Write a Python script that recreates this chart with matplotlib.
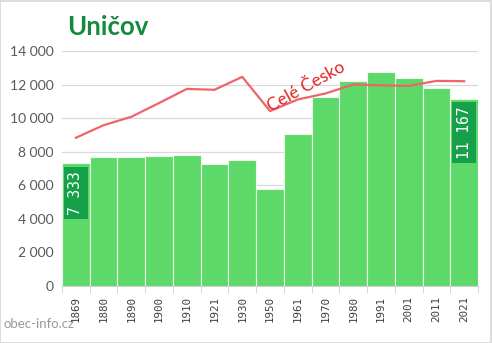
import matplotlib
matplotlib.use("Agg")
import matplotlib.pyplot as plt
from matplotlib.patches import Rectangle

years = ["1869", "1880", "1890", "1900", "1910", "1921", "1930", "1950",
         "1961", "1970", "1980", "1991", "2001", "2011", "2021"]
population = [7333, 7690, 7690, 7760, 7820, 7260, 7500, 5770,
              9030, 11280, 12240, 12760, 12420, 11810, 11167]
# whole-country trend, rescaled to the town's axis
czechia = [8830, 9580, 10080, 10900, 11740, 11690, 12460, 10420,
           11110, 11470, 12000, 11960, 11920, 12220, 12200]
labelled = [0, 14]

bar_green = "#5dd96a"
box_green = "#15a049"
title_green = "#138a3e"
grey = "#595959"

fig = plt.figure(figsize=(4.92, 3.43), dpi=100)
ax = fig.add_axes([0.126, 0.1662, 0.8455, 0.6851])

x = list(range(len(years)))
ax.bar(x, population, width=1.0, color=bar_green, edgecolor="#eafbe9",
       linewidth=0.8, zorder=2)
ax.plot(x, czechia, color="#ee6468", linewidth=1.6, zorder=3)

for i in labelled:
    ax.text(i, population[i] - 480, f"{population[i]:,}".replace(",", " "),
            rotation=90, ha="center", va="top", color="white",
            fontsize=10.5, family="DejaVu Sans Mono", zorder=4,
            bbox=dict(boxstyle="square,pad=0.3", fc=box_green, ec="none"))

ax.text(8.3, 11850, "Celé Česko", rotation=29, color="#e02424",
        fontsize=12.5, family="Lato", ha="center", va="center", zorder=4)

ax.set_xlim(-0.5, len(years) - 0.5)
ax.set_ylim(0, 14000)
ax.set_yticks(range(0, 14001, 2000))
ax.set_yticklabels([f"{v:,}".replace(",", " ") for v in range(0, 14001, 2000)],
                   family="Lato", fontsize=10, color=grey)
ax.set_xticks(x)
ax.set_xticklabels(years, rotation=90, family="DejaVu Sans Mono",
                   fontsize=7.8, color="#404040")
ax.set_xticks([i + 0.5 for i in range(-1, len(years))], minor=True)
ax.tick_params(axis="x", which="major", length=0, pad=7)
ax.tick_params(axis="x", which="minor", length=5, color="#d0d0d0")
ax.tick_params(axis="y", length=0, pad=6)
ax.grid(axis="y", color="#d9d9d9", linewidth=0.9, zorder=0)
ax.set_axisbelow(True)
for side in ["top", "right", "left"]:
    ax.spines[side].set_visible(False)
ax.spines["bottom"].set_color("#d0d0d0")

fig.text(0.136, 0.92, "Uničov", family="Lato", fontweight="bold",
         fontsize=18.5, color=title_green, va="center")
fig.text(0.008, 0.055, "obec-info.cz", family="Lato", fontsize=9.5,
         color="#9a9a9a", va="center")
fig.patches.append(Rectangle((0.001, 0.001), 0.997, 0.996,
                             transform=fig.transFigure, fill=False,
                             edgecolor="#d6d6d6", linewidth=1.2))

fig.savefig("out.png", dpi=100)
